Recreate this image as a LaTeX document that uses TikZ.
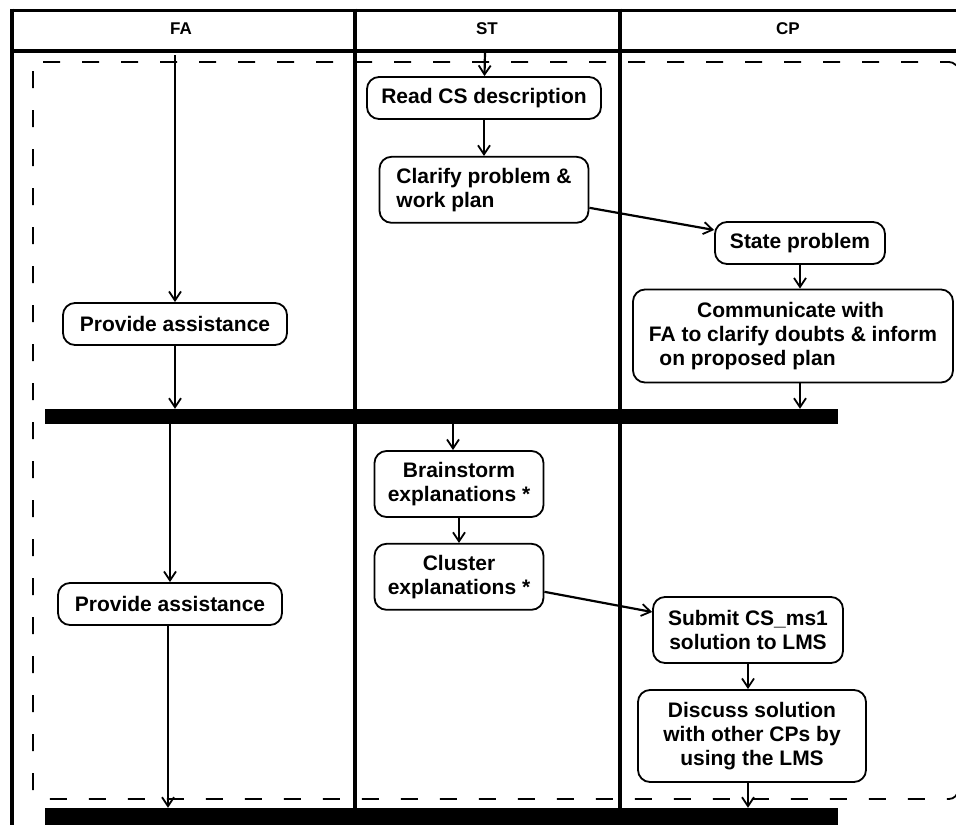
\documentclass[tikz,border=0pt]{standalone}
\usepackage{fontspec}
\setmainfont{Liberation Sans}
\usetikzlibrary{arrows.meta, positioning}
\tikzset{
  activity/.style={
    rectangle, rounded corners=12pt, draw, line width=1.8pt,
    minimum height=42pt, inner sep=5pt, align=center,
    font=\fontsize{21}{24}\selectfont\bfseries
  },
  flow/.style={
    -{Straight Barb[length=9pt, width=12pt, line width=1.8pt]}, line width=2.2pt
  },
  syncbar/.style={
    rectangle, fill=black, inner sep=0pt, minimum width=793pt, minimum height=15pt
  },
  lanehead/.style={font=\fontsize{17}{19}\selectfont\bfseries},
  laneline/.style={line width=4.5pt},
  region/.style={dash pattern=on 17pt off 22pt, line width=1.8pt, rounded corners=9pt}
}

\begin{document}
\begin{tikzpicture}[x=1pt, y=-1pt]
  \useasboundingbox (0,0) rectangle (956,825);

  % Swimlanes
  \draw[line width=3pt] (11,10) -- (956,10);
  \draw[laneline] (12,51) -- (956,51);
  \draw[line width=3.5pt] (12,8.5) -- (12,825);
  \draw[laneline] (355,8.5) -- (355,825);
  \draw[laneline] (620,8.5) -- (620,825);
  \node[lanehead] (fahead) at (181,29) {FA};
  \node[lanehead] (sthead) at (487,29) {ST};
  \node[lanehead] (cphead) at (788,29) {CP};

  % Dashed region
  \draw[region] (33,62) rectangle (958,799);

  % Synchronisation bars
  \node[syncbar] (bar1) at (441.5,416.5) {};
  \node[syncbar, minimum height=17pt] (bar2) at (441.5,816.5) {};

  % First phase
  \coordinate (fastart) at (175,55);
  \coordinate (ststart) at (485,52);
  \node[activity, minimum width=224pt] (assist1) at (175,324) {Provide assistance};
  \node[activity, minimum width=234pt] (read) at (484,98) {Read CS description};
  \node[activity, minimum width=209pt, minimum height=66pt, align=left,
    below=36pt of read] (clarify) {Clarify problem \&\\work plan};
  \node[activity, minimum width=170pt] (state) at (800,243) {State problem};
  \node[activity, minimum width=320pt, minimum height=93pt, align=left] (comm) at (793,336)
    {\hspace*{2.3em}Communicate with\\FA to clarify doubts \& inform\\\hspace*{0.5em}on proposed plan};

  \draw[flow] (fastart) -- (assist1);
  \draw[flow] (assist1) -- (assist1 |- bar1.north);
  \draw[flow] (ststart) -- (read);
  \draw[flow] (read) -- (clarify);
  \draw[flow] ([yshift=-18pt]clarify.east) -- ([yshift=13pt]state.west);
  \draw[flow] (state) -- (state |- comm.north);
  \draw[flow] (state |- comm.south) -- (state |- bar1.north);

  % Second phase
  \coordinate (brainx) at (453,0);
  \coordinate (faendx) at (168,0);
  \node[activity, minimum width=224pt] (assist2) at (170,604) {Provide assistance};
  \node[activity, minimum width=169pt, minimum height=66pt] (brain) at (459,484)
    {Brainstorm\\explanations *};
  \node[activity, minimum width=169pt, minimum height=66pt, below=25pt of brain]
    (cluster) {Cluster\\explanations *};
  \node[activity, minimum width=190pt, minimum height=66pt] (submit) at (748,630)
    {Submit CS\_ms1\\solution to LMS};
  \node[activity, minimum width=228pt, minimum height=92pt] (discuss) at (752,736)
    {Discuss solution\\with other CPs by\\using the LMS};

  \draw[flow] (bar1.south -| brainx) -- (brain.north -| brainx);
  \draw[flow] (bar1.south -| assist2) -- (assist2);
  \draw[flow] (brain) -- (cluster);
  \draw[flow] ([yshift=-15pt]cluster.east) -- ([yshift=18pt]submit.west);
  \draw[flow] (submit) -- (submit |- discuss.north);
  \draw[flow] (assist2.south -| faendx) -- (bar2.north -| faendx);
  \draw[flow] (discuss.south -| submit) -- (bar2.north -| submit);

\end{tikzpicture}
\end{document}
